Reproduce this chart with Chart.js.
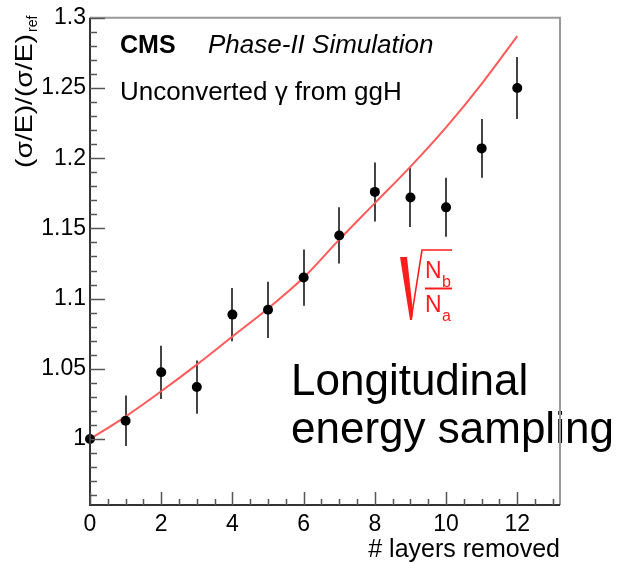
<!DOCTYPE html>
<html>
<head>
<meta charset="utf-8">
<script src="https://cdn.jsdelivr.net/npm/chart.js@4"></script>
<style>
html,body{margin:0;padding:0;background:#fff;}
#wrap{width:623px;height:563px;}
</style>
</head>
<body>
<div id="wrap"><canvas id="c" width="623" height="563"></canvas></div>
<script>
// ---- data ----
const layersRemoved = [0,1,2,3,4,5,6,7,8,9,10,11,12];
const resolutionRatio = [1.000,1.013,1.0475,1.037,1.0886,1.092,1.115,1.145,1.176,1.172,1.165,1.207,1.250];
const resolutionErr   = [0.000,0.018,0.019,0.019,0.019,0.020,0.020,0.020,0.021,0.021,0.021,0.021,0.022];
const curveX = [0,1,2,3,4,5,6,7,8,9,10,11,12];
const curveY = [1.000,1.016,1.034,1.053,1.073,1.093,1.115,1.142,1.168,1.194,1.222,1.253,1.287];
const xTickValues = [0,2,4,6,8,10,12];
const xTickLabels = ['0','2','4','6','8','10','12'];
const yTickValues = [1,1.05,1.1,1.15,1.2,1.25,1.3];
const yTickLabels = ['1','1.05','1.1','1.15','1.2','1.25','1.3'];

const FONT = '"Liberation Sans", Arial, Helvetica, sans-serif';

const overlay = {
  id: 'overlay',
  beforeDatasetsDraw(chart) {
    const ctx = chart.ctx, xs = chart.scales.x, ys = chart.scales.y;
    ctx.save();
    ctx.strokeStyle = '#444';
    ctx.lineWidth = 2;
    for (let i = 0; i < layersRemoved.length; i++) {
      if (!resolutionErr[i]) continue;
      const px = Math.round(xs.getPixelForValue(layersRemoved[i]));
      const y1 = ys.getPixelForValue(resolutionRatio[i] + resolutionErr[i]);
      const y2 = ys.getPixelForValue(resolutionRatio[i] - resolutionErr[i]);
      ctx.beginPath(); ctx.moveTo(px, y1); ctx.lineTo(px, y2); ctx.stroke();
    }
    ctx.restore();
  },
  afterDraw(chart) {
    const ctx = chart.ctx, xs = chart.scales.x, ys = chart.scales.y;
    const a = chart.chartArea;
    ctx.save();
    // texts
    ctx.fillStyle = '#000';
    ctx.textBaseline = 'alphabetic';
    ctx.textAlign = 'left';
    ctx.font = 'bold 25px ' + FONT;
    ctx.fillText('CMS', 120, 53);
    ctx.font = 'italic 26px ' + FONT;
    ctx.fillText('Phase-II Simulation', 208, 53);
    ctx.font = '26px ' + FONT;
    ctx.fillText('Unconverted \u03b3 from ggH', 120, 100);

    ctx.font = '44px ' + FONT;
    ctx.fillText('Longitudinal', 291, 395);
    ctx.fillText('energy sampling', 291, 443);

    // x title
    ctx.font = '25px ' + FONT;
    ctx.textAlign = 'right';
    ctx.fillText('# layers removed', 560, 557);

    // y title
    ctx.save();
    ctx.translate(32, 168);
    ctx.rotate(-Math.PI / 2);
    ctx.textAlign = 'left';
    ctx.font = '24px ' + FONT;
    const main = '(\u03c3/E)/(\u03c3/E)';
    const w = ctx.measureText(main).width;
    const sx = 134 / w;
    ctx.save();
    ctx.scale(sx, 1);
    ctx.fillText(main, 0, 0);
    ctx.restore();
    ctx.font = '14px ' + FONT;
    ctx.fillText('ref', 136, 5);
    ctx.restore();

    // formula sqrt(Nb/Na)
    ctx.fillStyle = '#ff1c1c';
    ctx.strokeStyle = '#ff1c1c';
    ctx.beginPath();
    ctx.moveTo(400, 257); ctx.lineTo(407, 257); ctx.lineTo(413, 312); ctx.lineTo(412, 320); ctx.lineTo(410, 320);
    ctx.closePath(); ctx.fill();
    ctx.lineWidth = 1.6;
    ctx.beginPath(); ctx.moveTo(411, 320); ctx.lineTo(422, 250); ctx.lineTo(452, 250); ctx.stroke();
    ctx.textAlign = 'left';
    ctx.font = '23px ' + FONT;
    ctx.fillText('N', 425, 278);
    ctx.fillText('N', 425, 312);
    ctx.font = '16px ' + FONT;
    ctx.fillText('b', 442, 287);
    ctx.fillText('a', 442, 321);
    ctx.lineWidth = 2;
    ctx.beginPath(); ctx.moveTo(425, 288.5); ctx.lineTo(452, 288.5); ctx.stroke();

    // frame
    ctx.lineWidth = 2;
    ctx.strokeStyle = '#999';
    ctx.beginPath(); ctx.moveTo(a.left, a.top); ctx.lineTo(a.right, a.top); ctx.lineTo(a.right, a.bottom); ctx.stroke();
    ctx.strokeStyle = '#333';
    ctx.beginPath(); ctx.moveTo(a.left, a.top); ctx.lineTo(a.left, a.bottom); ctx.lineTo(a.right, a.bottom); ctx.stroke();

    // y ticks (inside)
    ctx.lineWidth = 1.5;
    ctx.strokeStyle = '#555';
    for (let k = 96; k <= 130; k++) {
      const v = k / 100;
      const py = Math.round(ys.getPixelForValue(v)) + 0.5;
      const len = (k % 5 === 0) ? 15 : 7;
      ctx.beginPath(); ctx.moveTo(a.left, py); ctx.lineTo(a.left + len, py); ctx.stroke();
    }
    // x ticks (inside)
    for (let k = 0; k <= 26; k++) {
      const v = k / 2;
      const px = Math.round(xs.getPixelForValue(v)) + 0.5;
      const len = (k % 4 === 0) ? 13 : 6;
      ctx.beginPath(); ctx.moveTo(px, a.bottom); ctx.lineTo(px, a.bottom - len); ctx.stroke();
    }
    ctx.restore();
  }
};

new Chart(document.getElementById('c'), {
  type: 'scatter',
  data: {
    datasets: [
      {
        label: 'fit',
        type: 'line',
        data: curveX.map((x, i) => ({x, y: curveY[i]})),
        borderColor: '#ff5a5a',
        borderWidth: 2,
        pointRadius: 0,
        showLine: true,
        fill: false,
        cubicInterpolationMode: 'monotone',
        order: 2
      },
      {
        label: 'points',
        data: layersRemoved.map((x, i) => ({x, y: resolutionRatio[i]})),
        backgroundColor: '#000',
        borderColor: '#000',
        pointRadius: 5,
        pointBorderWidth: 0,
        clip: false,
        order: 1
      }
    ]
  },
  options: {
    responsive: false,
    animation: false,
    devicePixelRatio: 1,
    layout: { padding: { top: 14, right: 63, left: 0, bottom: 0 } },
    plugins: { legend: { display: false }, tooltip: { enabled: false } },
    scales: {
      x: {
        type: 'linear',
        min: 0, max: 13.2,
        afterBuildTicks: s => { s.ticks = xTickValues.map(v => ({value: v})); },
        afterFit: s => { s.height = 58; },
        ticks: {
          callback: (v) => { const i = xTickValues.indexOf(v); return i >= 0 ? xTickLabels[i] : ''; },
          font: { family: FONT, size: 23 }, color: '#000', padding: 6, maxRotation: 0, autoSkip: false
        },
        grid: { display: false, drawTicks: false },
        border: { display: false }
      },
      y: {
        type: 'linear',
        min: 0.953, max: 1.3,
        afterBuildTicks: s => { s.ticks = yTickValues.map(v => ({value: v})); },
        afterFit: s => { s.width = 90; },
        ticks: {
          callback: (v) => { const i = yTickValues.indexOf(v); return i >= 0 ? yTickLabels[i] : ''; },
          font: { family: FONT, size: 23 }, color: '#000', padding: 4, autoSkip: false
        },
        grid: { display: false, drawTicks: false },
        border: { display: false }
      }
    }
  },
  plugins: [overlay]
});
</script>
</body>
</html>
